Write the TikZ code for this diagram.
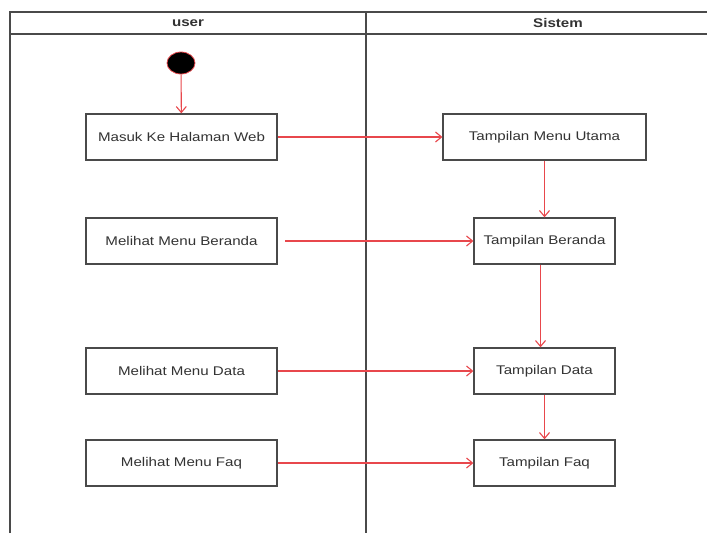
\documentclass[tikz,border=0pt]{standalone}
\usepackage{fontspec}
\setmainfont[FakeStretch=1.2]{Liberation Sans}
\usetikzlibrary{arrows.meta,shapes.geometric}
\definecolor{frame}{HTML}{4A4A4A}
\definecolor{flow}{HTML}{E8474C}
\definecolor{txt}{HTML}{333333}
\begin{document}
\begin{tikzpicture}[x=1pt,y=-1pt]
\tikzset{
  actbox/.style={draw=frame,line width=1.3pt,fill=white,minimum height=46pt,
    text=txt,font=\fontsize{12.6}{15}\selectfont,inner sep=0pt},
  flowline/.style={draw=flow,line width=1.1pt,-{Straight Barb[length=6pt,width=10pt]}},
  lane/.style={draw=frame,line width=1.8pt}
}
\clip (0,0) rectangle (707,533);
\fill[white] (0,0) rectangle (707,533);
% swimlanes
\draw[lane] (10,533) -- (10,12) -- (760,12);
\draw[lane] (10,34) -- (760,34);
\draw[lane] (366,12) -- (366,533);
\node[font=\bfseries\fontsize{12.6}{15}\selectfont,text=txt] (lnuser) at (188,23) {user};
\node[font=\bfseries\fontsize{12.6}{15}\selectfont,text=txt] (lnsistem) at (558,23) {Sistem};
% start
\node[draw=flow,fill=black,ellipse,line width=0.8pt,minimum width=28pt,minimum height=22pt,inner sep=0pt] (start) at (181,63) {};
% user lane
\node[actbox,minimum width=191pt] (masuk) at (181.5,137) {Masuk Ke Halaman Web};
\node[actbox,minimum width=191pt] (beranda) at (181.5,241) {Melihat Menu Beranda};
\node[actbox,minimum width=191pt] (data) at (181.5,371) {Melihat Menu Data};
\node[actbox,minimum width=191pt] (faq) at (181.5,463) {Melihat Menu Faq};
% sistem lane
\node[actbox,minimum width=203pt] (tutama) at (544.5,137) {Tampilan Menu Utama};
\node[actbox,minimum width=141pt] (tberanda) at (544.5,241) {Tampilan Beranda};
\node[actbox,minimum width=141pt] (tdata) at (544.5,371) {Tampilan Data};
\node[actbox,minimum width=141pt] (tfaq) at (544.5,463) {Tampilan Faq};
\coordinate (berandaout) at (285,241);
% flows
\draw[flowline] (start) -- (masuk);
\draw[flowline] (masuk) -- (tutama);
\draw[flowline] (berandaout) -- (tberanda);
\draw[flowline] (data) -- (tdata);
\draw[flowline] (faq) -- (tfaq);
\draw[flowline] (tutama) -- (tberanda);
\draw[flowline] ([xshift=-4pt]tberanda.south) -- ([xshift=-4pt]tdata.north);
\draw[flowline] (tdata) -- (tfaq);
\end{tikzpicture}
\end{document}
